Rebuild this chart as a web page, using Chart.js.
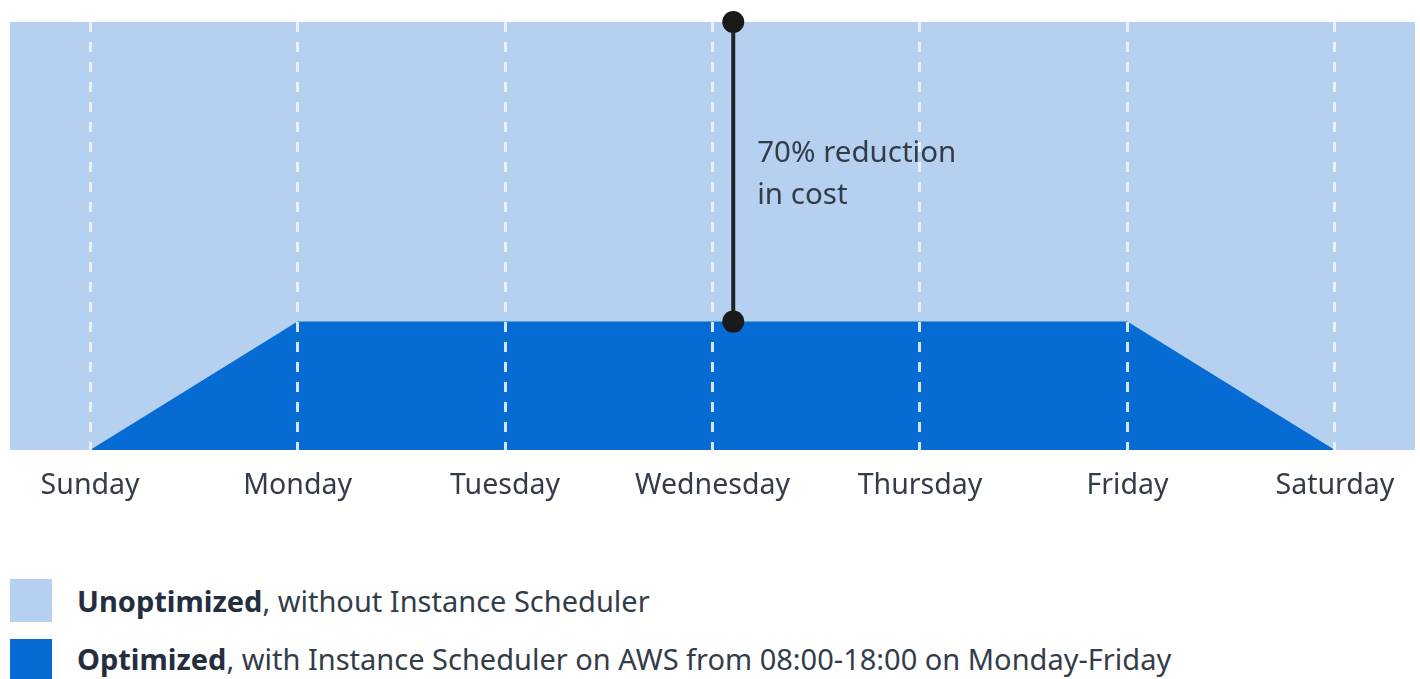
<!DOCTYPE html>
<html>
<head>
<meta charset="utf-8">
<script src="https://cdn.jsdelivr.net/npm/chart.js@4"></script>
<style>
  body { margin: 0; background: #fff; font-family: 'Noto Sans', sans-serif; }
  #wrap { position: relative; width: 1420px; height: 679px; overflow: hidden; }
  #box { position: absolute; left: 0; top: 0; width: 1420px; height: 540px; }
  .key { position: absolute; left: 10px; width: 42px; height: 43px; }
  .txt { position: absolute; left: 77px; font-size: 29px; color: #333d49; white-space: nowrap; }
  .txt b { color: #232f3e; }
</style>
</head>
<body>
<div id="wrap">
  <div id="box"><canvas id="chart"></canvas></div>
  <div class="key" style="top:579px; background:#b5d1ef;"></div>
  <div class="txt" style="top:581px;"><b>Unoptimized</b>, without Instance Scheduler</div>
  <div class="key" style="top:639px; background:#066cd4;"></div>
  <div class="txt" style="top:639px;"><b>Optimized</b>, with Instance Scheduler on AWS from 08:00-18:00 on Monday-Friday</div>
</div>
<script>
// days of the week on the x axis
const days = ['Sunday', 'Monday', 'Tuesday', 'Wednesday', 'Thursday', 'Friday', 'Saturday'];

// cost level, percent
const unoptimized = [100, 100, 100, 100, 100, 100, 100];
const optimized = [0, 30, 30, 30, 30, 30, 0];

// the "70% reduction" marker sits a bit right of Wednesday
const markerX = 3.1;
const markerFrom = 30;
const markerTo = 100;
const markerText = ['70% reduction', 'in cost'];

// axis range, the light band runs past Sunday and Saturday
const X_MIN = -0.386;
const X_MAX = 6.386;

const textColor = '#333d49';

const unoptPoints = [{ x: X_MIN, y: unoptimized[0] }]
  .concat(unoptimized.map((v, i) => ({ x: i, y: v })))
  .concat([{ x: X_MAX, y: unoptimized[unoptimized.length - 1] }]);

const optPoints = optimized.map((v, i) => ({ x: i, y: v }));

// label next to the marker line
const markerLabel = {
  id: 'markerLabel',
  afterDatasetsDraw(chart) {
    const { ctx, scales } = chart;
    const x = scales.x.getPixelForValue(markerX) + 24;
    const mid = scales.y.getPixelForValue((markerFrom + markerTo) / 2);
    ctx.save();
    ctx.font = '29.5px "Noto Sans"';
    ctx.fillStyle = textColor;
    ctx.textBaseline = 'middle';
    ctx.textAlign = 'left';
    ctx.fillText(markerText[0], x, mid - 18);
    ctx.fillText(markerText[1], x, mid + 24);
    ctx.restore();
  }
};

new Chart(document.getElementById('chart'), {
  type: 'line',
  data: {
    datasets: [
      {
        label: 'Marker',
        data: [{ x: markerX, y: markerFrom }, { x: markerX, y: markerTo }],
        borderColor: '#222',
        borderWidth: 4,
        pointRadius: 11,
        pointBackgroundColor: '#1a1a1a',
        pointBorderWidth: 0,
        clip: false,
        order: 0
      },
      {
        label: 'Optimized',
        data: optPoints,
        borderWidth: 0,
        pointRadius: 0,
        backgroundColor: '#066cd4',
        fill: 'origin',
        order: 1
      },
      {
        label: 'Unoptimized',
        data: unoptPoints,
        borderWidth: 0,
        pointRadius: 0,
        backgroundColor: '#b5d1ef',
        fill: 'origin',
        order: 2
      }
    ]
  },
  options: {
    responsive: true,
    maintainAspectRatio: false,
    animation: false,
    // no auto padding, the marker dots may stick out of the plot
    layout: { autoPadding: false, padding: { top: 22, left: 10, right: 5, bottom: 18 } },
    scales: {
      x: {
        type: 'linear',
        min: X_MIN,
        max: X_MAX,
        afterBuildTicks: axis => { axis.ticks = days.map((d, i) => ({ value: i })); },
        ticks: {
          padding: 4,
          color: textColor,
          font: { family: 'Noto Sans', size: 28.5, lineHeight: 2.245 },
          maxRotation: 0,
          callback: v => days[v]
        },
        grid: {
          z: 1,
          color: 'rgba(238,243,249,0.9)',
          lineWidth: 3,
          drawTicks: false
        },
        border: { display: false, dash: [10, 10] }
      },
      y: { display: false, min: 0, max: 100 }
    },
    plugins: {
      legend: { display: false },
      tooltip: { enabled: false }
    }
  },
  plugins: [markerLabel]
});
</script>
</body>
</html>
